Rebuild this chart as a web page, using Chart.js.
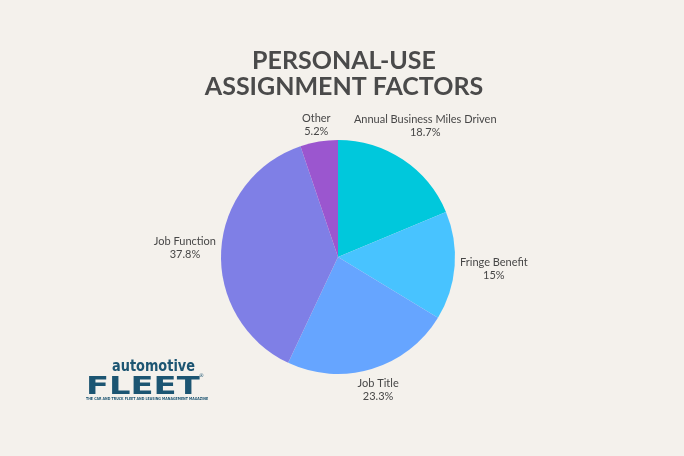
<!DOCTYPE html>
<html>
<head>
<meta charset="utf-8">
<script src="https://cdn.jsdelivr.net/npm/chart.js@4.4.1/dist/chart.umd.min.js"></script>
<style>
  html, body { margin: 0; padding: 0; background: #f4f1ec; }
  #wrap { position: relative; width: 684px; height: 456px; }
</style>
</head>
<body>
<div id="wrap"><canvas id="pieChart" width="684" height="456"></canvas></div>
<script>
const titleLines = ['PERSONAL-USE', 'ASSIGNMENT FACTORS'];
const categories = ['Annual Business Miles Driven', 'Fringe Benefit', 'Job Title', 'Job Function', 'Other'];
const shares = [18.7, 15, 23.3, 37.8, 5.2];
const sliceColors = ['#00c8dc', '#48c3ff', '#66a5ff', '#7f7fe6', '#9b56cf'];

const textColor = '#474747';
const logoColor = '#1c5572';

// title, outside labels and the magazine logo
const decorPlugin = {
  id: 'decor',
  afterDraw(chart) {
    const ctx = chart.ctx;
    ctx.save();

    // title
    ctx.fillStyle = '#4a4a4a';
    ctx.font = 'bold 25px Lato';
    ctx.textAlign = 'center';
    ctx.textBaseline = 'alphabetic';
    ctx.fillText(titleLines[0], 344, 69);
    ctx.fillText(titleLines[1], 344, 95);

    // slice labels, pushed out along the middle angle
    const meta = chart.getDatasetMeta(0);
    ctx.font = '11px Lato';
    ctx.fillStyle = textColor;
    meta.data.forEach((arc, i) => {
      const mid = (arc.startAngle + arc.endAngle) / 2;
      const dx = Math.cos(mid), dy = Math.sin(mid);
      const line1 = categories[i];
      const line2 = shares[i] + '%';
      const w = Math.max(ctx.measureText(line1).width, ctx.measureText(line2).width);
      const hw = w / 2;
      // labels above the pie sit on their lower line, ones below hang from the upper
      const hh = dy < 0 ? 10 : 13;
      const want = arc.outerRadius + 5;
      let lo = 0, hi = 400;
      for (let k = 0; k < 40; k++) {
        const t = (lo + hi) / 2;
        const ex = Math.max(Math.abs(t * dx) - hw, 0);
        const ey = Math.max(Math.abs(t * dy) - hh, 0);
        if (Math.hypot(ex, ey) < want) lo = t; else hi = t;
      }
      const cx = arc.x + lo * dx, cy = arc.y + lo * dy;
      ctx.textAlign = 'center';
      ctx.textBaseline = 'middle';
      ctx.fillText(line1, cx, cy - 6.5);
      ctx.fillText(line2, cx, cy + 6.5);
    });

    // logo
    ctx.fillStyle = logoColor;
    ctx.textAlign = 'left';
    ctx.textBaseline = 'alphabetic';
    ctx.font = 'bold 15px "DejaVu Sans"';
    ctx.save();
    ctx.translate(112, 371);
    ctx.scale(0.86, 1);
    ctx.fillText('automotive', 0, 0);
    ctx.restore();

    ctx.save();
    ctx.translate(86, 394);
    ctx.scale(1.25, 0.95);
    ctx.font = 'bold 27px "DejaVu Sans"';
    ctx.fillText('FLEET', 0, 0);
    ctx.restore();

    ctx.font = '5px "DejaVu Sans"';
    ctx.fillText('\u00ae', 199, 377);

    ctx.save();
    ctx.translate(86, 399.5);
    ctx.font = 'bold 4px "DejaVu Sans"';
    ctx.scale(0.8, 1);
    ctx.fillText('THE CAR AND TRUCK FLEET AND LEASING MANAGEMENT MAGAZINE', 0, 0);
    ctx.restore();

    ctx.restore();
  }
};

new Chart(document.getElementById('pieChart'), {
  type: 'pie',
  data: {
    labels: categories,
    datasets: [{
      data: shares,
      backgroundColor: sliceColors,
      borderWidth: 0
    }]
  },
  options: {
    responsive: false,
    animation: false,
    layout: {
      padding: { left: 221, right: 229, top: 140, bottom: 82 }
    },
    plugins: {
      legend: { display: false },
      tooltip: { enabled: false },
      title: { display: false }
    }
  },
  plugins: [decorPlugin]
});
</script>
</body>
</html>
